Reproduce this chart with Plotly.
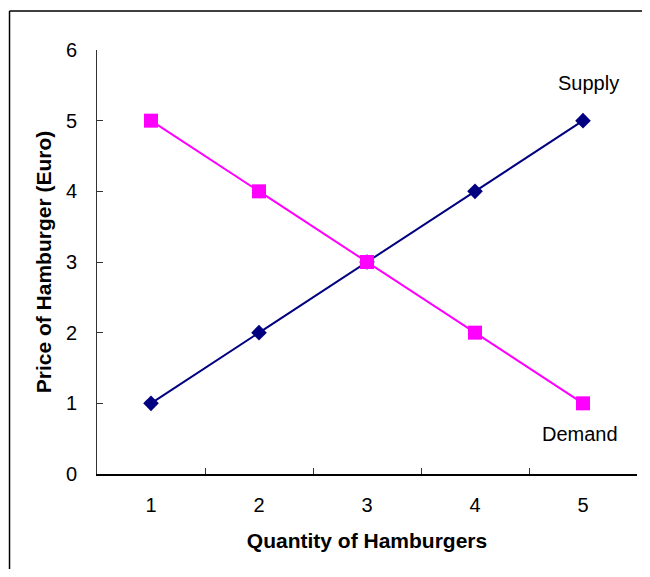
import plotly.graph_objects as go

quantity = ["1", "2", "3", "4", "5"]
supply_price = [1, 2, 3, 4, 5]
demand_price = [5, 4, 3, 2, 1]
y_ticks = [0, 1, 2, 3, 4, 5, 6]

FONT = "Liberation Sans"

fig = go.Figure()
fig.add_trace(go.Scatter(
    x=quantity, y=supply_price, mode="lines+markers", name="Supply",
    line=dict(color="#000080", width=2),
    marker=dict(symbol="diamond", size=12, color="#000080"),
))
fig.add_trace(go.Scatter(
    x=quantity, y=demand_price, mode="lines+markers", name="Demand",
    line=dict(color="#FF00FF", width=2),
    marker=dict(symbol="square", size=14, color="#FF00FF"),
))

fig.add_annotation(x=4, y=5.53, xref="x", yref="y", text="Supply", showarrow=False,
                   xshift=5, font=dict(family=FONT, size=20, color="black"))
fig.add_annotation(x=4, y=0.57, xref="x", yref="y", text="Demand", showarrow=False,
                   xshift=-3, font=dict(family=FONT, size=20, color="black"))

# chart frame (top and left edges; the others fall outside the picture)
fig.add_shape(type="line", xref="paper", yref="paper",
              x0=-0.162, x1=1.1, y0=1.092, y1=1.092,
              line=dict(color="black", width=1.5))
fig.add_shape(type="line", xref="paper", yref="paper",
              x0=-0.162, x1=-0.162, y0=-0.3, y1=1.092,
              line=dict(color="black", width=1.5))

fig.update_layout(
    width=642, height=561,
    margin=dict(l=89, r=13, t=42, b=95),
    paper_bgcolor="white", plot_bgcolor="white",
    showlegend=False,
    font=dict(family=FONT, size=20, color="black"),
    xaxis=dict(
        type="category", tickson="boundaries", range=[-0.5, 4.5],
        ticks="inside", ticklen=6, tickcolor="#333333",
        showline=True, linecolor="black", linewidth=1.5,
        showgrid=False, zeroline=False, ticklabelstandoff=12,
        title=dict(text="<b>Quantity of Hamburgers</b>", font=dict(family=FONT, size=21), standoff=19),
        tickfont=dict(family=FONT, size=20),
    ),
    yaxis=dict(
        range=[0, 6], tickvals=y_ticks,
        ticks="inside", ticklen=6, tickcolor="#333333",
        showline=True, linecolor="#333333", linewidth=1,
        showgrid=False, zeroline=False, ticklabelstandoff=15,
        title=dict(text="<b>Price of Hamburger (Euro)</b>", font=dict(family=FONT, size=21), standoff=8),
        tickfont=dict(family=FONT, size=20),
    ),
)

fig.write_html("out.html")
